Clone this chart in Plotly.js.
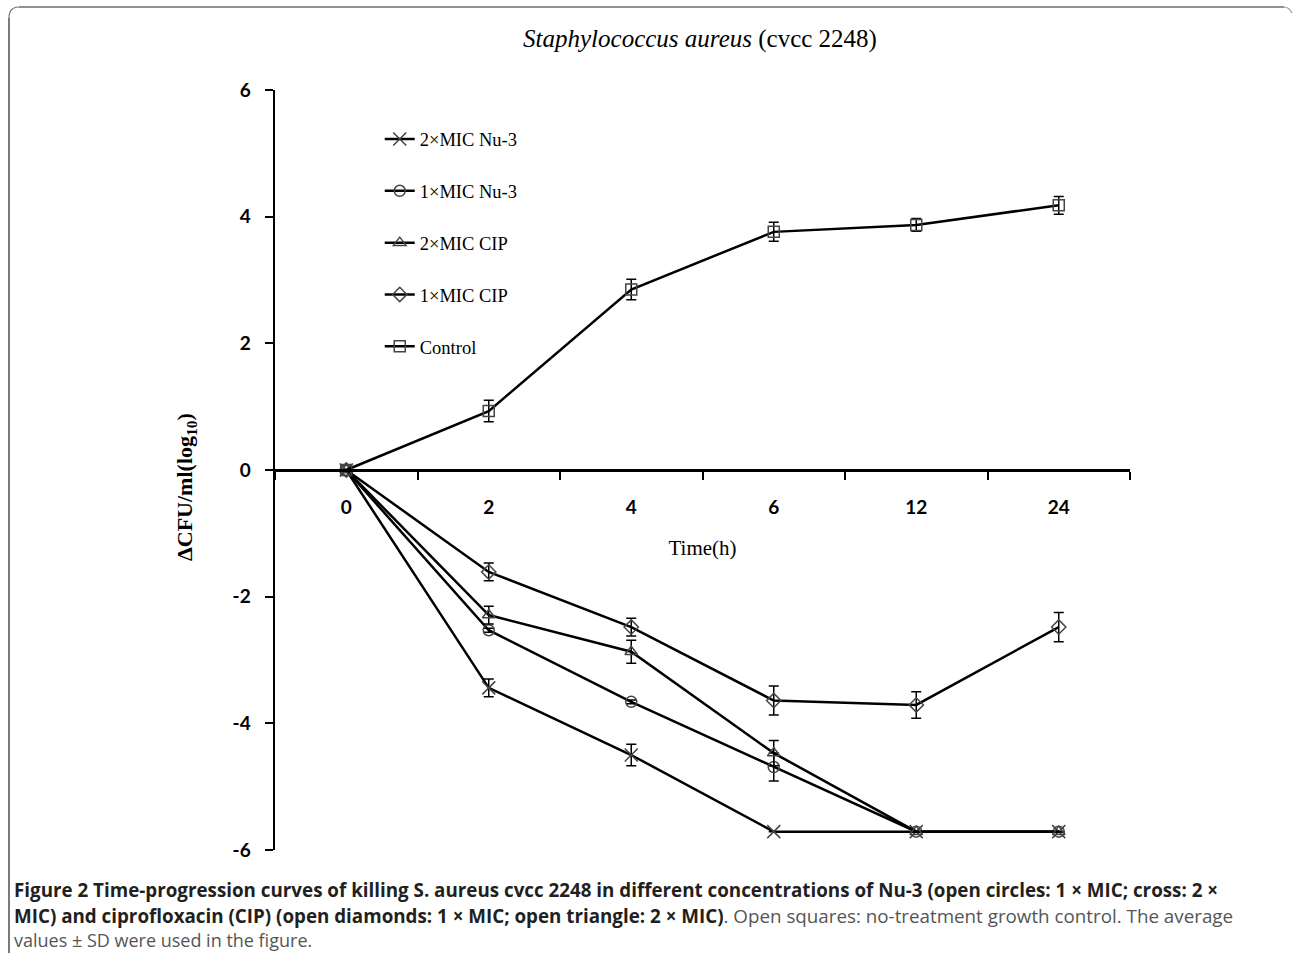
<!DOCTYPE html>
<html>
<head>
<meta charset="utf-8">
<script src="https://cdn.plot.ly/plotly-3.0.1.min.js"></script>
<style>html,body{margin:0;padding:0;background:#fff;}#chart{width:1293px;height:954px;}</style>
</head>
<body>
<div id="chart"></div>
<script>
const timeLabels = ['0', '2', '4', '6', '12', '24'];
const seriesNames = ['2×MIC Nu-3', '1×MIC Nu-3', '2×MIC CIP', '1×MIC CIP', 'Control'];
const nu3x2 = [0, -3.44, -4.50, -5.71, -5.71, -5.71];
const nu3x2Err = [0, 0.14, 0.17, 0, 0, 0];
const nu3x1 = [0, -2.53, -3.66, -4.69, -5.71, -5.71];
const nu3x1Err = [0, 0.03, 0.03, 0.22, 0, 0];
const cipx2 = [0, -2.29, -2.87, -4.47, -5.71, -5.71];
const cipx2Err = [0, 0.14, 0.18, 0.20, 0, 0];
const cipx1 = [0, -1.61, -2.48, -3.64, -3.71, -2.48];
const cipx1Err = [0, 0.14, 0.14, 0.23, 0.21, 0.23];
const control = [0, 0.93, 2.85, 3.76, 3.87, 4.18];
const controlErr = [0, 0.17, 0.16, 0.15, 0.10, 0.14];
const yTicks = [6, 4, 2, 0, -2, -4, -6];

const values = [nu3x2, nu3x1, cipx2, cipx1, control];
const errs = [nu3x2Err, nu3x1Err, cipx2Err, cipx1Err, controlErr];
const symbols = ['x-thin-open', 'circle-open', 'triangle-up-open', 'diamond-open', 'square-open'];
const sizes = [13, 11, 11, 11, 11];

const traces = values.map((v, i) => ({
  type: 'scatter',
  mode: 'lines+markers',
  x: timeLabels,
  y: v,
  name: seriesNames[i],
  legendgroup: 'g' + i,
  line: {color: '#000', width: 2.5},
  marker: {symbol: symbols[i], size: sizes[i], color: '#444', line: {color: '#444', width: 1.5}},
  error_y: {type: 'data', array: errs[i], visible: true, color: '#000', thickness: 1.5, width: 5}
}));

const L = 275, R = 1130, T = 90, B = 850, W = 1293, H = 954;
const px = x => (x - L) / (R - L);
const py = y => (B - y) / (B - T);
const layout = {
  width: W, height: H,
  margin: {l: L, r: W - R, t: T, b: H - B, pad: 0},
  paper_bgcolor: '#fff', plot_bgcolor: '#fff',
  showlegend: true,
  legend: {
    x: 0.1225, y: 0.96, xanchor: 'left', yanchor: 'top',
    bgcolor: 'rgba(0,0,0,0)', borderwidth: 0,
    font: {family: 'Liberation Serif, serif', size: 18.5, color: '#000'},
    tracegroupgap: 24.8, traceorder: 'grouped'
  },
  title: {
    text: '<i>Staphylococcus aureus</i> (cvcc 2248)',
    font: {family: 'Liberation Serif, serif', size: 25, color: '#000'},
    xref: 'container', yref: 'container', x: 700 / W, y: 1 - 38 / H, xanchor: 'center', yanchor: 'middle'
  },
  xaxis: {
    type: 'category',
    range: [-0.5, 5.5],
    anchor: 'free', position: 0.5,
    showline: true, linecolor: '#000', linewidth: 2.5,
    showgrid: false, zeroline: false,
    ticks: 'outside', ticklen: 8, tickwidth: 2, tickcolor: '#000', tickson: 'boundaries',
    ticklabelstandoff: 20,
    tickfont: {family: 'Lato, sans-serif', size: 19, color: '#000', weight: 'bold'},
    title: {text: 'Time(h)', font: {family: 'Liberation Serif, serif', size: 21, color: '#000'}, standoff: 22},
    fixedrange: true
  },
  yaxis: {
    range: [-6, 6],
    tickvals: yTicks, ticktext: yTicks.map(String),
    showline: true, linecolor: '#000', linewidth: 2.5,
    showgrid: false, zeroline: false,
    ticks: 'outside', ticklen: 8, tickwidth: 2, tickcolor: '#000',
    ticklabelstandoff: 10,
    tickfont: {family: 'Lato, sans-serif', size: 19, color: '#000', weight: 'bold'},
    fixedrange: true
  },
  annotations: [
    {
      text: '<b>ΔCFU/ml(log<sub>10</sub>)</b>', textangle: -90,
      xref: 'paper', yref: 'paper', x: px(186), y: py(487),
      xanchor: 'center', yanchor: 'middle', showarrow: false,
      font: {family: 'Liberation Serif, serif', size: 22, color: '#000'}
    },
    {
      text: '<b>Figure 2 Time-progression curves of killing S. aureus cvcc 2248 in different concentrations of Nu-3 (open circles: 1 × MIC; cross: 2 ×</b>',
      xref: 'paper', yref: 'paper', x: px(12), y: py(890),
      xanchor: 'left', yanchor: 'middle', showarrow: false, align: 'left',
      font: {family: 'Open Sans, sans-serif', size: 18.8, color: '#231f20'}
    },
    {
      text: '<b>MIC) and ciprofloxacin (CIP) (open diamonds: 1 × MIC; open triangle: 2 × MIC)</b><span style="color:#555">. Open squares: no-treatment growth control. The average</span>',
      xref: 'paper', yref: 'paper', x: px(12), y: py(916),
      xanchor: 'left', yanchor: 'middle', showarrow: false, align: 'left',
      font: {family: 'Open Sans, sans-serif', size: 18.8, color: '#231f20'}
    },
    {
      text: 'values ± SD were used in the figure.',
      xref: 'paper', yref: 'paper', x: px(12), y: py(940),
      xanchor: 'left', yanchor: 'middle', showarrow: false, align: 'left',
      font: {family: 'Open Sans, sans-serif', size: 18, color: '#555'}
    }
  ],
  shapes: [
    {type: 'path', xref: 'paper', yref: 'paper', layer: 'above',
      path: 'M' + px(9) + ',' + py(953) + ' L' + px(9) + ',' + py(18),
      line: {color: '#222', width: 1.2}},
    {type: 'line', xref: 'paper', yref: 'paper',
      x0: px(19), x1: px(1284), y0: py(7), y1: py(7),
      line: {color: '#222', width: 1.2}},
    {type: 'path', xref: 'paper', yref: 'paper',
      path: 'M' + px(9) + ',' + py(18) + ' Q' + px(9) + ',' + py(7) + ' ' + px(19) + ',' + py(7),
      line: {color: '#777', width: 1.2}},
    {type: 'path', xref: 'paper', yref: 'paper',
      path: 'M' + px(1284) + ',' + py(7) + ' Q' + px(1289) + ',' + py(7) + ' ' + px(1292) + ',' + py(13),
      line: {color: '#999', width: 1.2}}
  ]
};

Plotly.newPlot('chart', traces, layout, {staticPlot: true, displayModeBar: false});
</script>
</body>
</html>
